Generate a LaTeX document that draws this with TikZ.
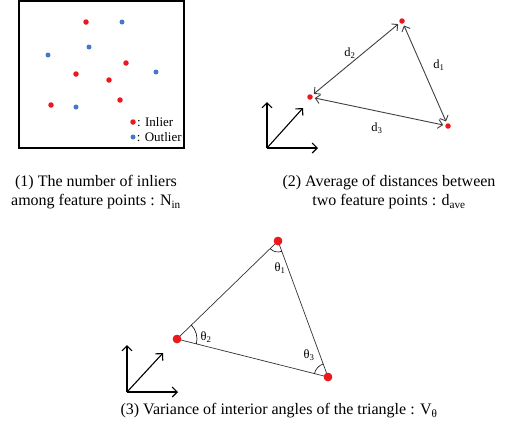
\documentclass[tikz,border=0pt]{standalone}
\usepackage{fontspec}
\setmainfont{Liberation Serif}
\usetikzlibrary{arrows.meta,angles}

\definecolor{inred}{RGB}{235,25,30}
\definecolor{outblue}{RGB}{70,120,200}

\tikzset{
  inlier/.style={circle,fill=inred,inner sep=0pt,minimum size=5.5pt},
  outlier/.style={circle,fill=outblue,inner sep=0pt,minimum size=5pt},
  vertex/.style={circle,fill=inred,inner sep=0pt,minimum size=8.5pt},
  dist/.style={{Straight Barb[length=4.5pt,width=9pt]}-{Straight Barb[length=4.5pt,width=9pt]},
    line width=0.9pt,black!75,shorten <=2pt,shorten >=2pt},
  axis/.style={-{Straight Barb[length=5pt,width=10pt]},line width=1.1pt},
  side/.style={line width=0.7pt,black!80},
  caption/.style={align=center,font=\fontsize{16}{19.5}\selectfont},
  lbl/.style={font=\fontsize{12.5}{14}\selectfont,inner sep=1pt}
}

\begin{document}
\begin{tikzpicture}[x=1pt,y=-1pt]
  \useasboundingbox (0,0) rectangle (531,437);

  % (1) inliers and outliers
  \draw[line width=1.3pt] (19,1) rectangle (184,148);
  \node[inlier] (i1) at (86,22) {};
  \node[inlier] (i2) at (126,63) {};
  \node[inlier] (i3) at (76,74) {};
  \node[inlier] (i4) at (109,80) {};
  \node[inlier] (i5) at (120,100) {};
  \node[inlier] (i6) at (51,105) {};
  \node[outlier] (o1) at (122,22) {};
  \node[outlier] (o2) at (89,47) {};
  \node[outlier] (o3) at (48,55) {};
  \node[outlier] (o4) at (156,72) {};
  \node[outlier] (o5) at (76,107) {};
  \node[inlier] (keyin) at (133,122) {};
  \node[outlier] (keyout) at (133,137) {};
  \node[anchor=west,inner sep=1pt,font=\fontsize{13}{15}\selectfont] at (keyin.east) {: Inlier};
  \node[anchor=west,inner sep=1pt,font=\fontsize{13}{15}\selectfont] at (keyout.east) {: Outlier};
  \node[caption] (cap1) at (96,192) {(1) The number of inliers\\among feature points : N\textsubscript{in}};

  % (2) distances
  \node[inlier] (pa) at (402,21) {};
  \node[inlier] (pb) at (310,97) {};
  \node[inlier] (pc) at (448,126) {};
  \draw[dist] (pa) -- (pc);
  \draw[dist] (pa) -- (pb);
  \draw[dist] (pb) -- (pc);
  \node[lbl] at (350,53) {d\textsubscript{2}};
  \node[lbl] at (439,65) {d\textsubscript{1}};
  \node[lbl] at (377,128) {d\textsubscript{3}};
  \coordinate (ax1) at (267,148);
  \coordinate (ax1u) at (267,102);
  \coordinate (ax1d) at (303,108);
  \coordinate (ax1r) at (318,148);
  \draw[axis] (ax1) -- (ax1u);
  \draw[axis] (ax1) -- (ax1d);
  \draw[axis] (ax1) -- (ax1r);
  \node[caption] (cap2) at (389,192) {(2) Average of distances between\\two feature points : d\textsubscript{ave}};

  % (3) interior angles
  \node[vertex] (ta) at (278,241) {};
  \node[vertex] (tb) at (177,339) {};
  \node[vertex] (tc) at (328,377) {};
  \draw[side] (ta.center) -- (tb.center) -- (tc.center) -- cycle;
  \pic[draw,line width=0.6pt,angle radius=11pt] {angle=tb--ta--tc};
  \pic[draw,line width=0.6pt,angle radius=20pt] {angle=tc--tb--ta};
  \pic[draw,line width=0.6pt,angle radius=14pt] {angle=ta--tc--tb};
  \node[vertex] at (ta) {};
  \node[vertex] at (tb) {};
  \node[vertex] at (tc) {};
  \node[lbl] at (280,268) {θ\textsubscript{1}};
  \node[lbl] at (206,337) {θ\textsubscript{2}};
  \node[lbl] at (309,355) {θ\textsubscript{3}};
  \coordinate (ax2) at (127,392);
  \coordinate (ax2u) at (127,345);
  \coordinate (ax2d) at (163,353);
  \coordinate (ax2r) at (178,392);
  \draw[axis] (ax2) -- (ax2u);
  \draw[axis] (ax2) -- (ax2d);
  \draw[axis] (ax2) -- (ax2r);
  \node[caption] (cap3) at (279,411) {(3) Variance of interior angles of the triangle : V\textsubscript{θ}};
\end{tikzpicture}
\end{document}
